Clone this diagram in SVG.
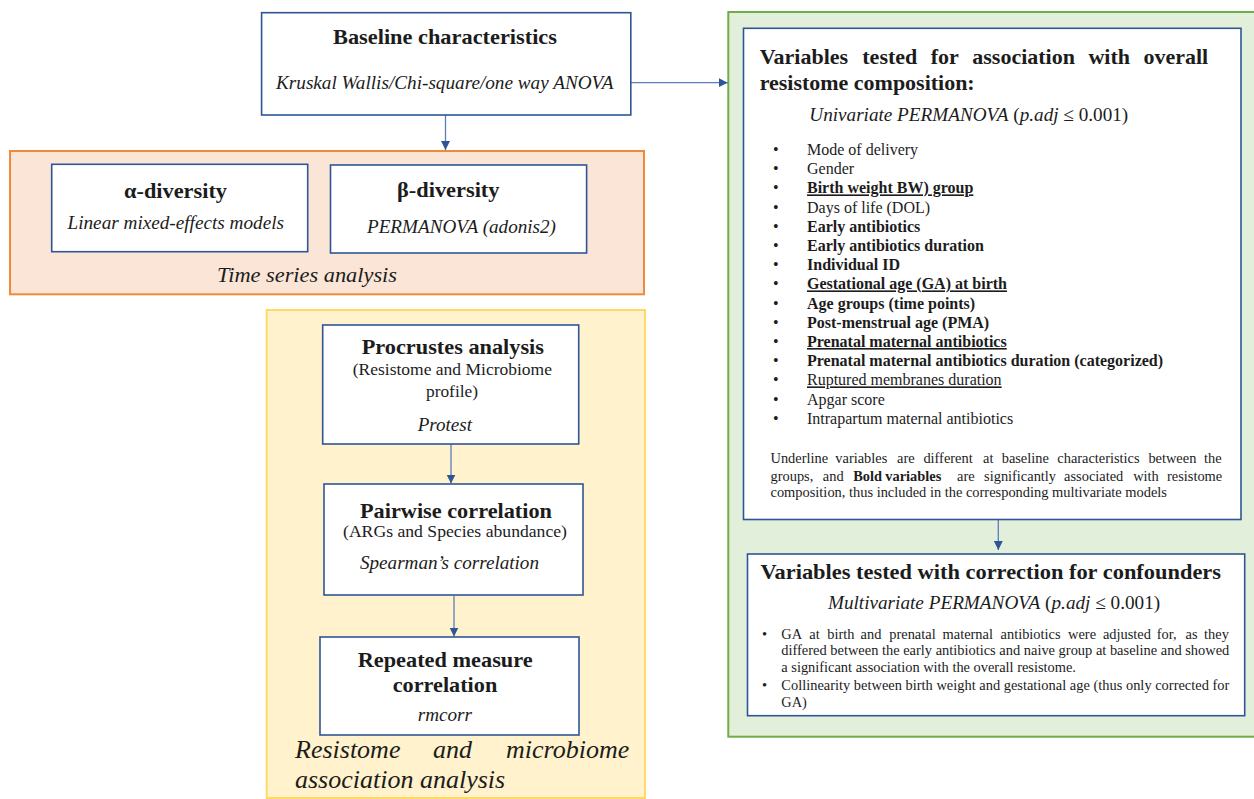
<svg xmlns="http://www.w3.org/2000/svg" width="1254" height="799" viewBox="0 0 1254 799">
<defs>
<style>
.t{font-family:"Liberation Serif","Times New Roman",serif;fill:#1c1c1c}
.b{font-weight:bold}
.i{font-style:italic}
.u{text-decoration:underline}
.box{fill:#ffffff;stroke:#2f5597;stroke-width:1.6}
.conn{stroke:#5a7dbd;stroke-width:1.3;fill:none;marker-end:url(#ah)}
.s22{font-size:22px}.s19{font-size:19px}.s17{font-size:17.5px}.s26{font-size:26px}.s16{font-size:16px}.s14{font-size:14.4px}
</style>
<marker id="ah" markerUnits="userSpaceOnUse" markerWidth="10" markerHeight="10" refX="9" refY="4.5" orient="auto">
<path d="M0,0 L9,4.5 L0,9 z" fill="#2f5597"/>
</marker>
</defs>
<rect width="1254" height="799" fill="#ffffff"/>

<!-- containers -->
<g id="time-series-group">
<rect x="10" y="151" width="634" height="143.3" fill="#fbe5d6" stroke="#ef8a3c" stroke-width="2"/>
<text class="t i s22" x="217" y="282" textLength="180" lengthAdjust="spacingAndGlyphs">Time series analysis</text>
</g>
<g id="association-group">
<rect x="266.7" y="310" width="378.3" height="488" fill="#fff2cc" stroke="#ffd966" stroke-width="2"/>
<text class="t i s26" y="758"><tspan x="295">Resistome</tspan><tspan x="433">and</tspan><tspan x="506">microbiome</tspan></text>
<text class="t i s26" x="295" y="788">association analysis</text>
</g>
<g id="permanova-group">
<rect x="728.3" y="12" width="540" height="724.7" fill="#e2efda" stroke="#70ad47" stroke-width="2"/>
</g>

<!-- connectors -->
<g id="connectors">
<line class="conn" x1="630.8" y1="82.7" x2="727.7" y2="82.7"/>
<line class="conn" x1="445.5" y1="115" x2="445.5" y2="150"/>
<line class="conn" x1="451" y1="444" x2="451" y2="483.5"/>
<line class="conn" x1="454" y1="596" x2="454" y2="636.5"/>
<line class="conn" x1="998.3" y1="519.5" x2="998.3" y2="550"/>
</g>

<g id="baseline">
<rect class="box" x="261.6" y="12.7" width="369.2" height="102.3"/>
<text class="t b s22" x="333" y="44" textLength="224" lengthAdjust="spacingAndGlyphs">Baseline characteristics</text>
<text class="t i s19" x="276" y="89.3" textLength="337.6" lengthAdjust="spacingAndGlyphs">Kruskal Wallis/Chi-square/one way ANOVA</text>
</g>

<g id="alpha-diversity">
<rect class="box" x="51.7" y="164.3" width="256" height="87.4"/>
<text class="t b s22" x="124" y="198" textLength="103" lengthAdjust="spacingAndGlyphs">α-diversity</text>
<text class="t i s19" x="67.5" y="229" textLength="216.5" lengthAdjust="spacingAndGlyphs">Linear mixed-effects models</text>
</g>

<g id="beta-diversity">
<rect class="box" x="330.5" y="165" width="256.1" height="88"/>
<text class="t b s22" x="397" y="197" textLength="102.5" lengthAdjust="spacingAndGlyphs">β-diversity</text>
<text class="t i s19" x="367" y="233" textLength="189" lengthAdjust="spacingAndGlyphs">PERMANOVA (adonis2)</text>
</g>

<g id="procrustes">
<rect class="box" x="322.7" y="325" width="256" height="119"/>
<text class="t b s22" x="361.7" y="354" textLength="182.3" lengthAdjust="spacingAndGlyphs">Procrustes analysis</text>
<text class="t s17" x="352.7" y="375" textLength="199.3" lengthAdjust="spacingAndGlyphs">(Resistome and Microbiome</text>
<text class="t s17" x="426" y="396.5" textLength="52" lengthAdjust="spacingAndGlyphs">profile)</text>
<text class="t i s19" x="417.7" y="431" textLength="54.3" lengthAdjust="spacingAndGlyphs">Protest</text>
</g>

<g id="pairwise">
<rect class="box" x="324" y="484" width="259" height="111"/>
<text class="t b s22" x="360" y="518" textLength="192" lengthAdjust="spacingAndGlyphs">Pairwise correlation</text>
<text class="t s17" x="343" y="537" textLength="224" lengthAdjust="spacingAndGlyphs">(ARGs and Species abundance)</text>
<text class="t i s19" x="360" y="569" textLength="179" lengthAdjust="spacingAndGlyphs">Spearman’s correlation</text>
</g>

<g id="repeated">
<rect class="box" x="320" y="637" width="259" height="98"/>
<text class="t b s22" x="357.7" y="667" textLength="175" lengthAdjust="spacingAndGlyphs">Repeated measure</text>
<text class="t b s22" x="392.7" y="692" textLength="104.6" lengthAdjust="spacingAndGlyphs">correlation</text>
<text class="t i s19" x="417.7" y="720.7" textLength="54.3" lengthAdjust="spacingAndGlyphs">rmcorr</text>
</g>

<g id="univariate">
<rect class="box" x="743.5" y="28.3" width="497.5" height="491.2"/>
<text class="t b s22" y="64"><tspan x="759.7">Variables</tspan><tspan x="862.3">tested</tspan><tspan x="930.8">for</tspan><tspan x="972.3">association</tspan><tspan x="1088.4">with</tspan><tspan x="1143.4">overall</tspan></text>
<text class="t b s22" x="759.7" y="90" textLength="215" lengthAdjust="spacingAndGlyphs">resistome composition:</text>
<text class="t s19" x="809.3" y="120.7" textLength="318.9" lengthAdjust="spacingAndGlyphs"><tspan class="i">Univariate PERMANOVA</tspan> (<tspan class="i">p.adj</tspan> ≤ 0.001)</text>
<g class="t s16">
<text x="773" y="155">•</text><text x="807" y="155">Mode of delivery</text>
<text x="773" y="174.2">•</text><text x="807" y="174.2">Gender</text>
<text x="773" y="193.4">•</text><text class="b u" x="807" y="193.4">Birth weight BW) group</text>
<text x="773" y="212.6">•</text><text x="807" y="212.6">Days of life (DOL)</text>
<text x="773" y="231.8">•</text><text class="b" x="807" y="231.8">Early antibiotics</text>
<text x="773" y="251">•</text><text class="b" x="807" y="251">Early antibiotics duration</text>
<text x="773" y="270.2">•</text><text class="b" x="807" y="270.2">Individual ID</text>
<text x="773" y="289.4">•</text><text class="b u" x="807" y="289.4">Gestational age (GA) at birth</text>
<text x="773" y="308.6">•</text><text class="b" x="807" y="308.6">Age groups (time points)</text>
<text x="773" y="327.8">•</text><text class="b" x="807" y="327.8">Post-menstrual age (PMA)</text>
<text x="773" y="347">•</text><text class="b u" x="807" y="347">Prenatal maternal antibiotics</text>
<text x="773" y="366.2">•</text><text class="b" x="807" y="366.2">Prenatal maternal antibiotics duration (categorized)</text>
<text x="773" y="385.4">•</text><text class="u" x="807" y="385.4">Ruptured membranes duration</text>
<text x="773" y="404.6">•</text><text x="807" y="404.6">Apgar score</text>
<text x="773" y="423.8">•</text><text x="807" y="423.8">Intrapartum maternal antibiotics</text>
</g>
<g class="t s14">
<text y="463.3"><tspan x="770.5">Underline</tspan><tspan x="835.3">variables</tspan><tspan x="897">are</tspan><tspan x="923.4">different</tspan><tspan x="983.1">at</tspan><tspan x="1001.7">baseline</tspan><tspan x="1057.3">characteristics</tspan><tspan x="1148.4">between</tspan><tspan x="1204">the</tspan></text>
<text y="480.5"><tspan x="770.5">groups,</tspan><tspan x="822.8">and</tspan><tspan class="b" x="853.2">Bold</tspan><tspan class="b" x="885.3">variables</tspan><tspan x="957.1">are</tspan><tspan x="984.1">significantly</tspan><tspan x="1064.1">associated</tspan><tspan x="1133.2">with</tspan><tspan x="1167">resistome</tspan></text>
<text x="770.5" y="497" textLength="396.5" lengthAdjust="spacingAndGlyphs">composition, thus included in the corresponding multivariate models</text>
</g>
</g>

<g id="multivariate">
<rect class="box" x="747.5" y="554" width="497.2" height="161.7"/>
<text class="t b s22" x="760.4" y="579.3" textLength="460.6" lengthAdjust="spacingAndGlyphs">Variables tested with correction for confounders</text>
<text class="t s19" x="827.9" y="609.3" textLength="332.3" lengthAdjust="spacingAndGlyphs"><tspan class="i">Multivariate PERMANOVA</tspan> (<tspan class="i">p.adj</tspan> ≤ 0.001)</text>
<g class="t s14">
<text x="762" y="638.5">•</text>
<text y="638.5"><tspan x="781.3">GA</tspan><tspan x="809.3">at</tspan><tspan x="827.2">birth</tspan><tspan x="860.6">and</tspan><tspan x="889.3">prenatal</tspan><tspan x="942.6">maternal</tspan><tspan x="1000.6">antibiotics</tspan><tspan x="1068.1">were</tspan><tspan x="1102.9">adjusted</tspan><tspan x="1156.8">for,</tspan><tspan x="1185.5">as</tspan><tspan x="1204.1">they</tspan></text>
<text x="781.3" y="655" textLength="448" lengthAdjust="spacingAndGlyphs">differed between the early antibiotics and naive group at baseline and showed</text>
<text x="781.3" y="672" textLength="294.6" lengthAdjust="spacingAndGlyphs">a significant association with the overall resistome.</text>
<text x="762" y="690">•</text>
<text x="781.3" y="690" textLength="448" lengthAdjust="spacing">Collinearity between birth weight and gestational age (thus only corrected for</text>
<text x="781.3" y="707">GA)</text>
</g>
</g>
</svg>
